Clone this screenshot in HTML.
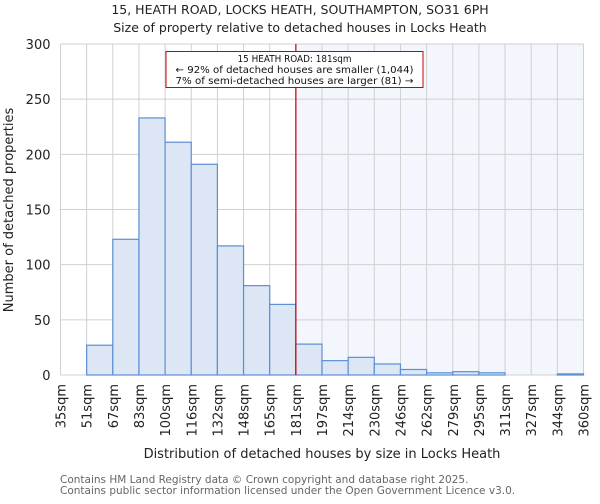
<!DOCTYPE html>
<html><head><meta charset="utf-8"><style>
body{margin:0;background:#fff;font-family:"DejaVu Sans","Liberation Sans",sans-serif}
</style></head><body>
<svg id="chart" width="600" height="500" xmlns="http://www.w3.org/2000/svg" font-family="DejaVu Sans, Liberation Sans, sans-serif">
<text x="300" y="14" text-anchor="middle" font-size="12.5" fill="#222">15, HEATH ROAD, LOCKS HEATH, SOUTHAMPTON, SO31 6PH</text>
<text x="300" y="32" text-anchor="middle" font-size="12.5" fill="#222">Size of property relative to detached houses in Locks Heath</text>
<g id="plot"></g>
<text x="322" y="458" text-anchor="middle" font-size="13" fill="#222">Distribution of detached houses by size in Locks Heath</text>
<text transform="translate(13,210) rotate(-90)" text-anchor="middle" font-size="13" fill="#222">Number of detached properties</text>
<text x="60" y="483" font-size="10.5" fill="#666">Contains HM Land Registry data © Crown copyright and database right 2025.</text>
<text x="60" y="494" font-size="10.5" fill="#666">Contains public sector information licensed under the Open Government Licence v3.0.</text>
</svg>
<script>
const categories=["35sqm","51sqm","67sqm","83sqm","100sqm","116sqm","132sqm","148sqm","165sqm","181sqm","197sqm","214sqm","230sqm","246sqm","262sqm","279sqm","295sqm","311sqm","327sqm","344sqm","360sqm"];
const counts=[0,27,123,233,211,191,117,81,64,28,13,16,10,5,2,3,2,0,0,1];
const yTicks=[0,50,100,150,200,250,300];
const markerIndex=9;
const annotationLines=["15 HEATH ROAD: 181sqm","← 92% of detached houses are smaller (1,044)","7% of semi-detached houses are larger (81) →"];
const X0=60.5,X1=583.5,Y0=375,Y1=44,YMAX=300;
const n=counts.length,bw=(X1-X0)/n;
const x=i=>X0+i*bw;
const y=v=>Y0-(v/YMAX)*(Y0-Y1);
const NS="http://www.w3.org/2000/svg";
const g=document.getElementById("plot");
function mk(t,a){const e=document.createElementNS(NS,t);for(const k in a)e.setAttribute(k,a[k]);g.appendChild(e);return e;}
let e=mk("rect",{x:x(markerIndex),y:Y1,width:X1-x(markerIndex),height:Y0-Y1,fill:"#f3f6fd"});


for(let i=0;i<=n;i++){const l=mk("line",{x1:x(i),x2:x(i),y1:Y1,y2:Y0,stroke:"#d0d0d0","stroke-width":1});

}
yTicks.forEach(t=>{const l=mk("line",{x1:X0,x2:X1,y1:y(t),y2:y(t),stroke:"#d0d0d0","stroke-width":1});


const tx=mk("text",{x:X0-10,y:y(t)+5,"text-anchor":"end","font-size":13,fill:"#222"});tx.textContent=t;

});
counts.forEach((v,i)=>{if(v<=0)return;const r=mk("rect",{x:x(i),y:y(v),width:bw,height:Y0-y(v),fill:"#dce6f5",stroke:"#5b8fd6","stroke-width":1.2});

});
categories.forEach((c,i)=>{const tx=mk("text",{transform:`translate(${x(i)+5},${384}) rotate(-90)`,"text-anchor":"end","font-size":13,fill:"#222"});tx.textContent=c;

});
const xm=x(markerIndex);
e=mk("line",{x1:xm,x2:xm,y1:Y1,y2:Y0,stroke:"#cc0000","stroke-width":1.2});


e=mk("rect",{x:166,y:51.5,width:257,height:36,fill:"#fff",stroke:"#cc0000","stroke-width":1});


annotationLines.forEach((s,k)=>{const tx=mk("text",{x:294.5,y:62+k*11,"text-anchor":"middle","font-size":10,"textLength":k==0?114:238,"lengthAdjust":"spacingAndGlyphs",fill:"#111"});tx.textContent=s;

});
</script>
</body></html>
